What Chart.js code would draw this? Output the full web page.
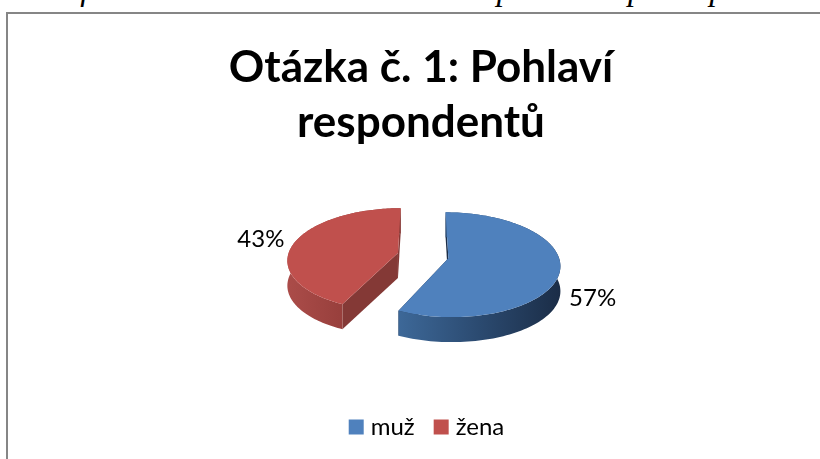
<!DOCTYPE html>
<html>
<head>
<meta charset="utf-8">
<title>Otázka č. 1</title>
<script src="https://cdn.jsdelivr.net/npm/chart.js@4/dist/chart.umd.min.js"></script>
<style>
  html, body { margin: 0; padding: 0; background: #fff; overflow: hidden; }
  #page { position: relative; width: 820px; height: 459px; overflow: hidden; }
  #caption { position: absolute; left: 27px; top: -28px; white-space: nowrap;
    font: italic 33px "Liberation Serif", serif; line-height: 34px; color: #000; }
  #frame { position: absolute; left: 6px; top: 12px; width: 830px; height: 460px;
    border: 2px solid #868686; box-sizing: border-box; }
  canvas { position: absolute; left: 0; top: 0; }
</style>
</head>
<body>
<div id="page">
  <div id="caption">Graf č. 1: Otázka č. 1 – Členění respondentů podle pohlaví</div>
  <div id="frame"></div>
  <canvas id="pieChart" width="820" height="459"></canvas>
</div>
<script>
var categories = ['muž', 'žena'];
var shares = [57, 43];
var titleLines = ['Otázka č. 1: Pohlaví', 'respondentů'];

var topColors = ['#4f81bd', '#c0504d'];
var wallColors = [['#3d6898', '#2b4a70', '#1b2d47'], ['#ab4c49', '#973f3c', '#8a3b38']];
var faceColors = ['#1b2d47', '#843936'];

// the 3d look: pie is tipped back with a bit of perspective
var squash = 0.463;
var perspective = 0.124;
var explode = 0.235;
var depth = 25;
var labelRadius = [1.28, 1.34];
var nudgeX = 2;
var legendNudge = 8;

var pie3d = {
  id: 'pie3d',
  afterLayout: function (chart) {
    chart.legend.left += legendNudge;
    chart.legend.right += legendNudge;
  },
  beforeDatasetsDraw: function (chart) {
    var ctx = chart.ctx;
    var arcs = chart.getDatasetMeta(0).data;

    function project(arc, angle, r, drop) {
      var mid = (arc.startAngle + arc.endAngle) / 2;
      var wx = r * Math.cos(angle) + explode * Math.cos(mid);
      var wy = -r * Math.sin(angle) - explode * Math.sin(mid);
      var f = 1 + perspective * wy;
      return {
        x: arc.x + nudgeX + arc.outerRadius * wx / f,
        y: arc.y - arc.outerRadius * squash * wy / f + drop
      };
    }

    function outline(pts) {
      ctx.beginPath();
      pts.forEach(function (p, i) {
        if (i === 0) ctx.moveTo(p.x, p.y);
        else ctx.lineTo(p.x, p.y);
      });
      ctx.closePath();
    }

    // red slice is further back so it goes first
    [1, 0].forEach(function (i) {
      var arc = arcs[i];
      var rim = [], rimLow = [];
      for (var n = 0; n <= 120; n++) {
        var a = arc.startAngle + (arc.endAngle - arc.startAngle) * n / 120;
        rim.push(project(arc, a, 1, 0));
        rimLow.push(project(arc, a, 1, depth));
      }
      var hub = project(arc, 0, 0, 0);
      var hubLow = project(arc, 0, 0, depth);

      // the two cut faces
      ctx.fillStyle = faceColors[i];
      outline([hub, rim[0], rimLow[0], hubLow]);
      ctx.fill();
      outline([hub, rim[120], rimLow[120], hubLow]);
      ctx.fill();

      // outer wall
      var xs = rim.map(function (p) { return p.x; });
      var grad = ctx.createLinearGradient(Math.min.apply(null, xs), 0, Math.max.apply(null, xs), 0);
      var stops = wallColors[i];
      grad.addColorStop(0, stops[0]);
      grad.addColorStop(0.5, stops[1]);
      grad.addColorStop(1, stops[2]);
      ctx.fillStyle = grad;
      outline(rim.concat(rimLow.slice().reverse()));
      ctx.fill();

      // top
      ctx.fillStyle = topColors[i];
      outline([hub].concat(rim));
      ctx.fill();

      // percent label
      var mid = (arc.startAngle + arc.endAngle) / 2;
      var front = Math.sin(mid) > 0;
      var spot = project(arc, mid, labelRadius[i], front ? depth : 0);
      ctx.fillStyle = '#000';
      ctx.font = '24px Lato';
      ctx.textAlign = 'center';
      ctx.textBaseline = 'middle';
      ctx.fillText(shares[i] + '%', spot.x, spot.y);
    });
    return false;
  }
};

var ctx = document.getElementById('pieChart').getContext('2d');
var chart = new Chart(ctx, {
  type: 'pie',
  data: {
    labels: categories,
    datasets: [{
      data: shares,
      backgroundColor: topColors,
      borderWidth: 0,
      radius: 110
    }]
  },
  options: {
    responsive: false,
    animation: false,
    layout: { padding: { left: 22, bottom: 10 } },
    plugins: {
      tooltip: { enabled: false },
      title: {
        display: true,
        text: titleLines,
        color: '#000',
        font: { family: 'Lato', weight: 'bold', size: 44, lineHeight: 1.24 },
        padding: { top: 41, bottom: -30 }
      },
      legend: {
        position: 'bottom',
        labels: {
          color: '#000',
          font: { family: 'Lato', size: 24 },
          usePointStyle: true,
          pointStyle: 'rect',
          boxWidth: 5,
          boxHeight: 15,
          padding: 24
        }
      }
    }
  },
  plugins: [pie3d]
});
</script>
</body>
</html>
